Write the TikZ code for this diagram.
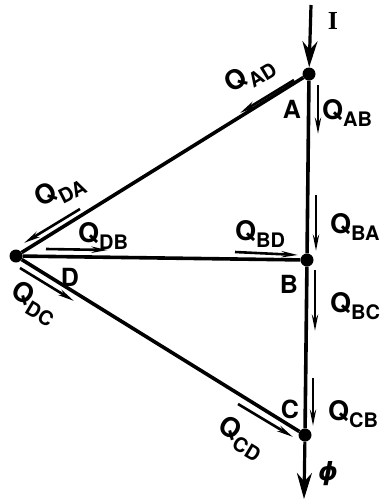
\documentclass[tikz,border=0pt]{standalone}
\usepackage{fontspec}
\setmainfont{TeX Gyre Heros}
\newfontfamily\seriffont{Liberation Serif}
\newfontfamily\dejavu{DejaVu Sans}
\usetikzlibrary{arrows.meta}
\newcommand\Qlab[1]{Q\raisebox{-0.28em}{\fontsize{20}{20}\selectfont #1}}
\begin{document}
\begin{tikzpicture}[x=1pt,y=-1pt,
  junction/.style={circle,fill=black,inner sep=0pt,minimum size=13pt},
  edge/.style={line width=3.6pt},
  flow/.style={line width=2.6pt,-{Stealth[length=16pt,width=6pt]}},
  feed/.style={line width=3.2pt,-{Stealth[length=26pt,width=15pt]}},
  qtxt/.style={font=\bfseries\fontsize{27}{27}\selectfont,inner sep=0pt},
  ptxt/.style={font=\bfseries\fontsize{25}{25}\selectfont,inner sep=0pt}]
\useasboundingbox (0,0) rectangle (380,499);
% junctions
\node[junction] (A) at (309,74) {};
\node[junction] (B) at (307,260) {};
\node[junction] (C) at (305,435) {};
\node[junction] (D) at (16,256) {};
% edges
\draw[edge] (A) -- (B);
\draw[edge] (B) -- (C);
\draw[edge] (A) -- (D);
\draw[edge] (D) -- (B);
\draw[edge] (D) -- (C);
% feed and draw-off
\coordinate (Itop) at (311,5);
\coordinate (Pend) at (304,499);
\draw[feed] (Itop) -- (A);
\draw[feed] (C) -- (Pend);
% flow arrows
\coordinate (ab1) at (318,85);  \coordinate (ab2) at (318,134);
\coordinate (ba1) at (316,195); \coordinate (ba2) at (316,251);
\coordinate (bc1) at (315,270); \coordinate (bc2) at (315,331);
\coordinate (cb1) at (313,378); \coordinate (cb2) at (313,426);
\coordinate (ad1) at (294,80);  \coordinate (ad2) at (240,113);
\coordinate (da1) at (80,209);  \coordinate (da2) at (24,243);
\coordinate (db1) at (46,249);  \coordinate (db2) at (108,250);
\coordinate (bd1) at (235,252); \coordinate (bd2) at (298,255);
\coordinate (dc1) at (20,268);  \coordinate (dc2) at (74,301);
\coordinate (cd1) at (238,404); \coordinate (cd2) at (293,437);
\foreach \s/\e in {ab1/ab2,ba1/ba2,bc1/bc2,cb1/cb2,ad1/ad2,da1/da2,db1/db2,bd1/bd2,dc1/dc2,cd1/cd2}
  \draw[flow] (\s) -- (\e);
% labels
\node[qtxt,anchor=base west] (lab) at (322,119) {\Qlab{AB}};
\node[qtxt,anchor=base west] (lba) at (330,233) {\Qlab{BA}};
\node[qtxt,anchor=base west] (lbc) at (330,312) {\Qlab{BC}};
\node[qtxt,anchor=base west] (lcb) at (328,420) {\Qlab{CB}};
\node[qtxt,anchor=base west] (ldb) at (78,242) {\Qlab{DB}};
\node[qtxt,anchor=base west] (lbd) at (235,240) {\Qlab{BD}};
\node[qtxt,rotate=31] (lad) at (250,75) {\Qlab{AD}};
\node[qtxt,rotate=27] (lda) at (60,191) {\Qlab{DA}};
\node[qtxt,rotate=-31] (ldc) at (34,303) {\Qlab{DC}};
\node[qtxt,rotate=-31] (lcd) at (241,438) {\Qlab{CD}};
\node[ptxt] (tA) at (292,109) {A};
\node[ptxt] (tB) at (289,284) {B};
\node[ptxt] (tC) at (290,409) {C};
\node[ptxt] (tD) at (70,277) {D};
\node[inner sep=0pt,font=\seriffont\bfseries\fontsize{26}{26}\selectfont] (tI) at (333,21) {I};
\node[inner sep=0pt,font=\dejavu\bfseries\itshape\fontsize{25}{25}\selectfont] (tphi) at (328,474) {ϕ};
\end{tikzpicture}
\end{document}
